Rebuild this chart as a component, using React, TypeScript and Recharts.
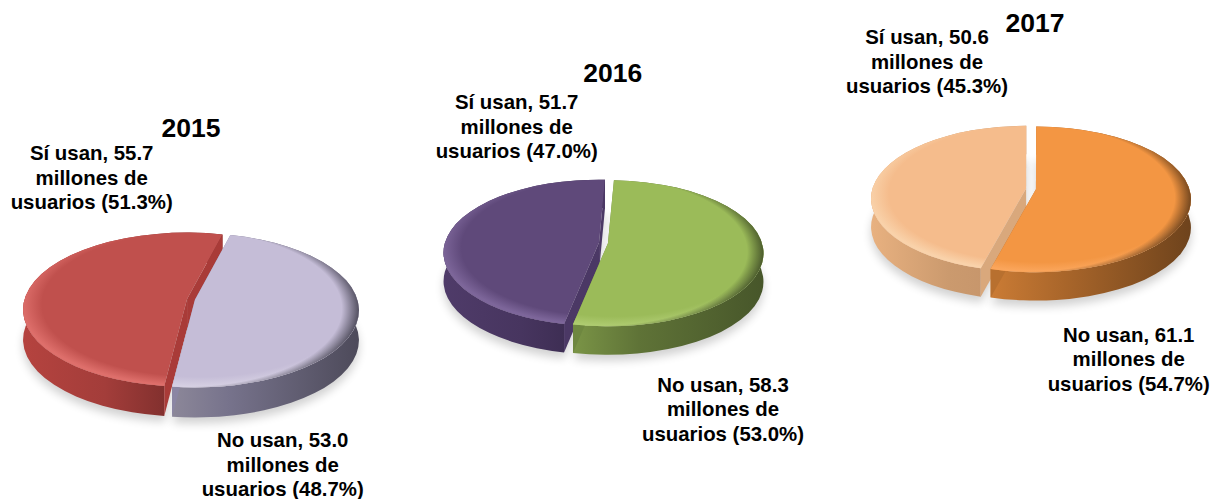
import { Pie, PieChart, Cell } from 'recharts'

const years = ['2015', '2016', '2017']
const categories = ['Sí usan', 'No usan']
const siUsan = [55.7, 51.7, 50.6]
const noUsan = [53.0, 58.3, 61.1]
const siPct = [51.3, 47.0, 45.3]
const noPct = [48.7, 53.0, 54.7]

// pie placement, one entry per year
const pieCx = [191, 603.5, 1031]
const pieCy = [310, 253, 199]
const pieR = [164, 155.5, 155]
const explode = [4, 4.5, 5]
const startAngles = [-98, -103, -107]

const SQUASH = 0.47
const DEPTH = 0.183
const APEX_UP = 0.065

// top, rim light, wall left, wall mid, wall right, cut wall
const palettes = [
	[
		['#c0504d', '#de6f6b', '#b5433f', '#a33d3a', '#7f2f2d', '#a93b38'],
		['#c5bdd7', '#d6d0e3', '#96919f', '#77738c', '#4d4a5a', '#8b86a3'],
	],
	[
		['#5f497a', '#7d669a', '#4f3b69', '#47355f', '#3a2b4f', '#4b3865'],
		['#9bbb59', '#aecb70', '#7f9a49', '#5f7337', '#47562a', '#6e8740'],
	],
	[
		['#f5bc8c', '#f9d2aa', '#e8b180', '#cb9a6e', '#c4936a', '#d9a87c'],
		['#f39643', '#fba65c', '#cb7c35', '#a8652a', '#6e431c', '#b8702f'],
	],
]

const labelPos = [
	[
		[91.7, 160],
		[282.7, 447],
	],
	[
		[516.7, 109],
		[723, 391.7],
	],
	[
		[927, 44],
		[1128.7, 341.7],
	],
]
const titlePos = [
	[191, 137],
	[612.7, 81.7],
	[1035, 32],
]

const rad = (a: number) => (a * Math.PI) / 180

const makeShape = (yearIdx: number) => (props: any) => {
	const { cx, cy, outerRadius, startAngle, endAngle, index } = props
	const R = outerRadius
	const ry = R * SQUASH
	const depth = R * DEPTH
	const mid = rad((startAngle + endAngle) / 2)
	const ox = cx + explode[yearIdx] * Math.cos(mid)
	const oy = cy - explode[yearIdx] * Math.sin(mid) * SQUASH
	const pt = (a: number, dy = 0) =>
		`${ox + R * Math.cos(rad(a))} ${oy - ry * Math.sin(rad(a)) + dy}`
	const large = Math.abs(endAngle - startAngle) > 180 ? 1 : 0
	const apexX = ox
	const apexY = oy - R * APEX_UP
	const topPath = `M ${apexX} ${apexY} L ${pt(startAngle)} A ${R} ${ry} 0 ${large} 1 ${pt(endAngle)} Z`
	const sidePath = `M ${pt(startAngle)} A ${R} ${ry} 0 ${large} 1 ${pt(endAngle)} L ${pt(endAngle, depth)} A ${R} ${ry} 0 ${large} 0 ${pt(startAngle, depth)} Z`
	const cut = (a: number) =>
		`M ${apexX} ${apexY} L ${pt(a)} L ${pt(a, depth)} L ${apexX} ${apexY + depth} Z`
	const shadowPath = `M ${apexX} ${apexY + depth + 6} L ${pt(startAngle, depth + 6)} A ${R} ${ry} 0 ${large} 1 ${pt(endAngle, depth + 6)} Z`

	const colors = palettes[yearIdx][index]
	const id = `s${yearIdx}-${index}`
	return (
		<g>
			<defs>
				<linearGradient id={`${id}-wall`} gradientUnits="userSpaceOnUse" x1={ox - R} x2={ox + R} y1={0} y2={0}>
					{index === 0 ? (
						<>
							<stop offset="0" stopColor={colors[2]} />
							<stop offset="0.25" stopColor={colors[3]} />
							<stop offset="0.45" stopColor={colors[4]} />
						</>
					) : (
						<>
							<stop offset="0.35" stopColor={colors[2]} />
							<stop offset="0.6" stopColor={colors[3]} />
							<stop offset="1" stopColor={colors[4]} />
						</>
					)}
				</linearGradient>
				<radialGradient
					id={`${id}-light`}
					gradientUnits="userSpaceOnUse"
					cx={0}
					cy={0}
					r={1}
					gradientTransform={`translate(${ox + R * 0.04} ${oy - ry * 0.07}) scale(${R * 1.05} ${ry * 1.06})`}>
					<stop offset="0.88" stopColor={colors[1]} stopOpacity="0" />
					<stop offset="1" stopColor={colors[1]} stopOpacity="1" />
				</radialGradient>
				<radialGradient
					id={`${id}-dark`}
					gradientUnits="userSpaceOnUse"
					cx={0}
					cy={0}
					r={1}
					gradientTransform={`translate(${ox - R * 0.05} ${oy - ry * 0.02}) scale(${R * 1.05} ${ry * 1.12})`}>
					<stop offset="0.9" stopColor={colors[4]} stopOpacity="0" />
					<stop offset="1" stopColor={colors[4]} stopOpacity="0.95" />
				</radialGradient>
				<filter id={`${id}-blur`} x="-20%" y="-20%" width="140%" height="140%">
					<feGaussianBlur stdDeviation="5" />
				</filter>
			</defs>
			<path d={shadowPath} fill="#000" opacity={0.18} filter={`url(#${id}-blur)`} />
			<path d={sidePath} fill={`url(#${id}-wall)`} />
			<path d={cut(startAngle)} fill={colors[5]} />
			<path d={cut(endAngle)} fill={colors[5]} />
			<path d={topPath} fill={colors[0]} />
			<path d={topPath} fill={`url(#${id}-light)`} />
			<path d={topPath} fill={`url(#${id}-dark)`} />
		</g>
	)
}

const makeLabel = (yearIdx: number) => (props: any) => {
	const { index, name, value } = props
	const pct = index === 0 ? siPct[yearIdx] : noPct[yearIdx]
	const [x, y] = labelPos[yearIdx][index]
	return (
		<text x={x} y={y} textAnchor="middle" fontFamily="'Liberation Sans'" fontWeight="bold" fontSize={20.4} fill="#000">
			<tspan x={x} y={y}>{`${name}, ${value.toFixed(1)}`}</tspan>
			<tspan x={x} y={y + 24.7}>millones de</tspan>
			<tspan x={x} y={y + 49.4}>{`usuarios (${pct.toFixed(1)}%)`}</tspan>
		</text>
	)
}

export default function App() {
	return (
		<div style={{ position: 'absolute', left: 0, top: 0 }}>
			<PieChart width={1218} height={499} margin={{ top: 0, right: 0, bottom: 0, left: 0 }}>
				{years.map((year, i) => {
					const data = [
						{ name: categories[0], value: siUsan[i] },
						{ name: categories[1], value: noUsan[i] },
					]
					return (
						<Pie
							key={year}
							data={data}
							dataKey="value"
							nameKey="name"
							cx={pieCx[i]}
							cy={pieCy[i]}
							innerRadius={0}
							outerRadius={pieR[i]}
							startAngle={startAngles[i]}
							endAngle={startAngles[i] - 360}
							stroke="none"
							shape={makeShape(i)}
							label={makeLabel(i)}
							labelLine={false}
							isAnimationActive={false}>
							{data.map((d, j) => (
								<Cell key={d.name} fill={palettes[i][j][0]} />
							))}
						</Pie>
					)
				})}
				{years.map((year, i) => (
					<text
						key={year}
						x={titlePos[i][0]}
						y={titlePos[i][1]}
						textAnchor="middle"
						fontFamily="'Liberation Sans'"
						fontWeight="bold"
						fontSize={26.5}
						fill="#000">
						{year}
					</text>
				))}
			</PieChart>
		</div>
	)
}
